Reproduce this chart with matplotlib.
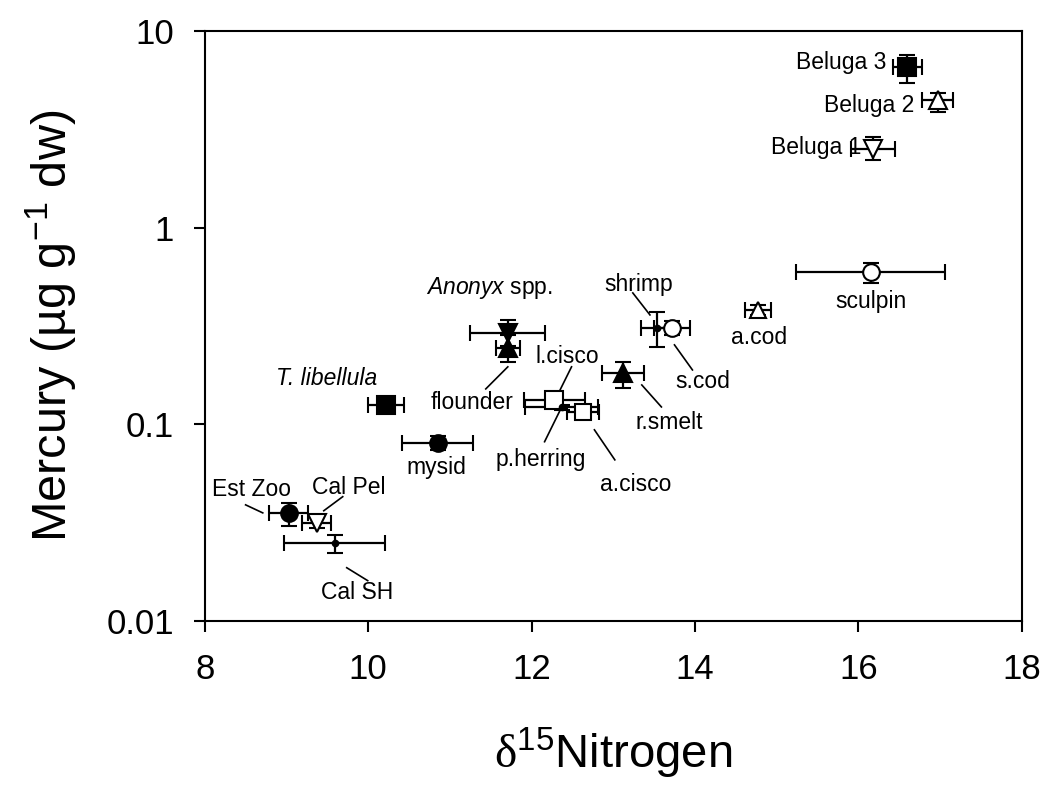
import matplotlib
matplotlib.use("Agg")
import matplotlib.pyplot as plt

plt.rcParams['font.family'] = ['Liberation Sans', 'DejaVu Sans']
plt.rcParams['mathtext.fontset'] = 'custom'
plt.rcParams['mathtext.rm'] = 'Liberation Serif'
plt.rcParams['mathtext.it'] = 'Liberation Sans:italic'
plt.rcParams['mathtext.sf'] = 'Liberation Sans'

# ---- data ----
names = ["Beluga 3", "Beluga 2", "Beluga 1", "sculpin", "a.cod", "s.cod", "shrimp",
         "r.smelt", "a.cisco", "l.cisco", "p.herring", "Anonyx", "flounder",
         "T. libellula", "mysid", "Est Zoo", "Cal Pel", "Cal SH"]
d15n = [16.60, 16.97, 16.18, 16.16, 14.77, 13.72, 13.54,
        13.12, 12.63, 12.28, 12.37, 11.71, 11.71,
        10.22, 10.85, 9.03, 9.37, 9.59]
d15n_err_lo = [0.18, 0.19, 0.27, 0.92, 0.16, 0.22, 0.20,
               0.26, 0.20, 0.37, 0.45, 0.46, 0.15,
               0.22, 0.43, 0.24, 0.18, 0.62]
d15n_err_hi = [0.18, 0.19, 0.27, 0.90, 0.16, 0.22, 0.20,
               0.26, 0.20, 0.37, 0.45, 0.46, 0.15,
               0.22, 0.43, 0.24, 0.18, 0.62]
hg = [6.56, 4.46, 2.51, 0.596, 0.382, 0.309, 0.310,
      0.182, 0.116, 0.133, 0.122, 0.292, 0.244,
      0.126, 0.0804, 0.0355, 0.0316, 0.0249]
hg_lo = [5.45, 3.87, 2.21, 0.524, 0.360, 0.285, 0.247,
         0.153, 0.110, 0.127, 0.118, 0.250, 0.2075,
         0.121, 0.074, 0.0304, 0.0295, 0.0222]
hg_hi = [7.55, 4.84, 2.89, 0.662, 0.405, 0.335, 0.372,
         0.207, 0.122, 0.139, 0.126, 0.340, 0.285,
         0.131, 0.087, 0.0398, 0.0338, 0.0274]

# ---- styles ----
markers = ['s', '^', 'v', 'o', '^', 'o', 'o',
           '^', 's', 's', 'o', 'v', '^',
           's', 'o', 'o', 'v', 'o']
filled = [True, False, False, False, False, False, True,
          True, False, False, True, True, True,
          True, True, True, False, True]
msizes = [13, 13, 13, 12, 12, 12, 4,
          13, 12, 13, 4, 13, 13,
          13, 12, 12, 13, 4]

# label layout: (text, x, y, ha, italic)
labels = [
    ("Beluga 3", 16.35, 6.95, 'right', False),
    ("Beluga 2", 16.69, 4.21, 'right', False),
    ("Beluga 1", 16.04, 2.57, 'right', False),
    ("sculpin", 16.16, 0.419, 'center', False),
    ("a.cod", 14.78, 0.275, 'center', False),
    ("s.cod", 14.10, 0.1644, 'center', False),
    ("shrimp", 13.31, 0.512, 'center', False),
    ("r.smelt", 13.69, 0.1016, 'center', False),
    ("a.cisco", 13.28, 0.0492, 'center', False),
    ("l.cisco", 12.44, 0.220, 'center', False),
    ("p.herring", 12.11, 0.0659, 'center', False),
    (r"$\mathit{Anonyx}$ spp.", 11.49, 0.493, 'center', False),
    ("flounder", 11.27, 0.1285, 'center', False),
    ("T. libellula", 9.49, 0.170, 'center', True),
    ("mysid", 10.84, 0.060, 'center', False),
    ("Est Zoo", 8.575, 0.0465, 'center', False),
    ("Cal Pel", 9.76, 0.0475, 'center', False),
    ("Cal SH", 9.87, 0.0139, 'center', False),
]
# leader lines: ((x0, y0), (x1, y1))
leaders = [
    ((8.50, 0.0389), (8.71, 0.0354)),
    ((9.689, 0.0428), (9.457, 0.0363)),
    ((9.738, 0.01862), (9.995, 0.0160)),
    ((11.44, 0.1513), (11.71, 0.196)),
    ((12.49, 0.196), (12.35, 0.1496)),
    ((12.16, 0.0815), (12.37, 0.1225)),
    ((12.77, 0.0937), (13.02, 0.0659)),
    ((13.35, 0.1585), (13.59, 0.1225)),
    ((13.75, 0.2535), (13.97, 0.189)),
    ((13.24, 0.466), (13.45, 0.360)),
]

fig = plt.figure(figsize=(10.5, 8.01), dpi=100)
ax = fig.add_axes([0.195, 0.225, 0.778, 0.736])

for i in range(len(names)):
    fc = 'black' if filled[i] else 'white'
    ax.errorbar(d15n[i], hg[i],
                xerr=[[d15n_err_lo[i]], [d15n_err_hi[i]]],
                yerr=[[hg[i] - hg_lo[i]], [hg_hi[i] - hg[i]]],
                fmt=markers[i], ms=msizes[i], mfc=fc, mec='black', mew=1.5,
                ecolor='black', elinewidth=1.6, capsize=6, capthick=1.6,
                zorder=3)

for (t, x, y, ha, it) in labels:
    ax.text(x, y, t, ha=ha, va='center', fontsize=16.5, color='black',
            style='italic' if it else 'normal', zorder=5)

for (p0, p1) in leaders:
    ax.plot([p0[0], p1[0]], [p0[1], p1[1]], color='black', lw=1.2, zorder=2)

ax.set_yscale('log')
ax.set_xlim(8, 18)
ax.set_ylim(0.01, 10)
ax.set_xticks([8, 10, 12, 14, 16, 18])
ax.set_yticks([0.01, 0.1, 1, 10])
ax.set_yticklabels(['0.01', '0.1', '1', '10'])
ax.minorticks_off()
ax.tick_params(axis='both', which='major', direction='out', length=8, width=1.5,
               labelsize=25)
ax.tick_params(axis='x', pad=15)
ax.tick_params(axis='y', pad=14)
for s in ax.spines.values():
    s.set_linewidth(1.5)

ax.set_xlabel(r'$\mathrm{\delta}^{\mathsf{15}}$Nitrogen', fontsize=34, labelpad=29)
ax.set_ylabel(r'Mercury (µg g$^{\mathsf{-1}}$ dw)', fontsize=35, labelpad=20)

fig.savefig('out.png', dpi=100)
